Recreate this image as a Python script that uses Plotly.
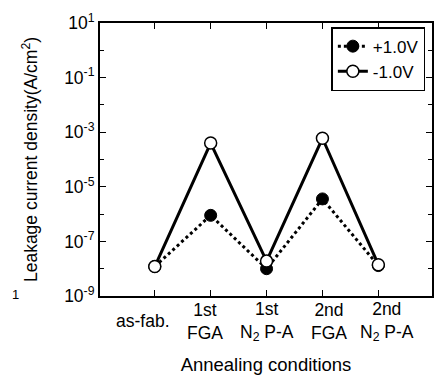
import plotly.graph_objects as go

categories = [0, 1, 2, 3, 4]
cat_labels = ["as-fab.", "1st<br>FGA", "1st<br>N<sub>2</sub> P-A", "2nd<br>FGA", "2nd<br>N<sub>2</sub> P-A"]
pos_values = [1.2e-8, 9e-7, 1.0e-8, 3.6e-6, 1.3e-8]   # +1.0V
neg_values = [1.2e-8, 4e-4, 1.9e-8, 6e-4, 1.4e-8]     # -1.0V
ytick_vals = [1e1, 1e-1, 1e-3, 1e-5, 1e-7, 1e-9]
ytick_text = ["10<sup>1</sup>", "10<sup>-1</sup>", "10<sup>-3</sup>", "10<sup>-5</sup>", "10<sup>-7</sup>", "10<sup>-9</sup>"]
label_shifts = [-12, -6, 0, 7, 9]  # style: horizontal pixel offsets of category labels

font = "Liberation Sans, Arial, sans-serif"
fig = go.Figure()
fig.add_trace(go.Scatter(x=categories, y=pos_values, mode="lines+markers", name="+1.0V",
                         line=dict(color="black", width=3, dash="dot"),
                         marker=dict(symbol="circle", size=12, color="black", line=dict(color="black", width=1))))
fig.add_trace(go.Scatter(x=categories, y=neg_values, mode="lines+markers", name="-1.0V",
                         line=dict(color="black", width=3),
                         marker=dict(symbol="circle", size=12, color="white", line=dict(color="black", width=1.5))))

for c, t, s in zip(categories, cat_labels, label_shifts):
    fig.add_annotation(x=c, y=-0.093, xref="x", yref="paper", text=t, showarrow=False, xshift=s,
                       yanchor="middle", font=dict(family=font, size=17.5, color="black"))
fig.add_annotation(x=-0.27, y=-0.03, xref="paper", yref="paper", text="1", showarrow=False,
                   font=dict(family=font, size=13, color="black"))

fig.update_layout(
    width=445, height=379, margin=dict(l=100, r=11, t=12, b=83),
    paper_bgcolor="white", plot_bgcolor="white",
    font=dict(family=font, size=17, color="black"),
    showlegend=True,
    legend=dict(x=0.98, y=0.985, xanchor="right", yanchor="top",
                bordercolor="black", borderwidth=1.5, bgcolor="white",
                font=dict(family=font, size=17), itemwidth=30, tracegroupgap=0),
    xaxis=dict(range=[-0.98, 4.96], tickvals=categories, ticktext=[""] * 5, ticks="inside",
               ticklen=6, tickcolor="black", showline=True, linecolor="black", linewidth=2,
               mirror="ticks", showgrid=False, zeroline=False,
               title=dict(text="Annealing conditions", font=dict(size=18.5), standoff=58)),
    yaxis=dict(type="log", range=[-9, 1], tickvals=ytick_vals, ticktext=ytick_text,
               ticks="inside", ticklen=6, tickcolor="black", showline=True, linecolor="black",
               linewidth=2, mirror="ticks", showgrid=False, zeroline=False,
               minor=dict(tickvals=[1e0, 1e-2, 1e-4, 1e-6, 1e-8], ticks="inside", ticklen=4, tickcolor="black"),
               tickfont=dict(size=17.5),
               title=dict(text="Leakage current density(A/cm<sup>2</sup>)", font=dict(size=17.5), standoff=22)),
)
fig.write_html("out.html")
